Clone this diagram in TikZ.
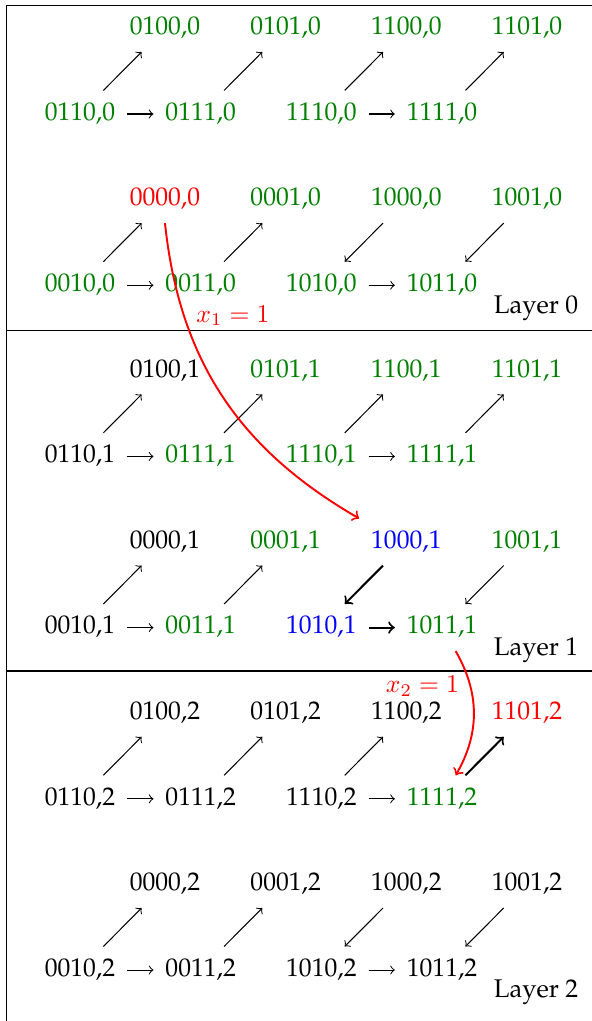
\documentclass[tikz,border=0pt]{standalone}
\usepackage[T1]{fontenc}
\usepackage{palatino}
\begin{document}
\begin{tikzpicture}
\tikzstyle{every node}+=[inner sep=4.5pt, text height=7pt, text depth=2pt]
\tikzstyle{okstate}=[text=green!50!black]
\tikzstyle{errstate}=[text=red]
\tikzstyle{curstate}=[text=blue]
\tikzstyle{jump}=[red, line width=0.75pt, ->]
\useasboundingbox (0,0) rectangle (8.127,-14.017);
\draw [black, line width=0.5pt] (8.127,-0.078) -- (0.092,-0.078) -- (0.092,-14.017);
\draw [black, line width=0.5pt] (0.092,-4.540) -- (8.127,-4.540);
\draw [black, line width=0.5pt] (0.092,-9.212) -- (8.127,-9.212);
% layer 0
\node [okstate] (s0100-0) at (2.265,-0.390) {0100,0};
\node [okstate] (s0101-0) at (3.922,-0.390) {0101,0};
\node [okstate] (s1100-0) at (5.579,-0.390) {1100,0};
\node [okstate] (s1101-0) at (7.236,-0.390) {1101,0};
\node [okstate] (s0110-0) at (1.098,-1.565) {0110,0};
\node [okstate] (s0111-0) at (2.755,-1.565) {0111,0};
\node [okstate] (s1110-0) at (4.412,-1.565) {1110,0};
\node [okstate] (s1111-0) at (6.069,-1.565) {1111,0};
\node [errstate] (s0000-0) at (2.265,-2.740) {0000,0};
\node [okstate] (s0001-0) at (3.922,-2.740) {0001,0};
\node [okstate] (s1000-0) at (5.579,-2.740) {1000,0};
\node [okstate] (s1001-0) at (7.236,-2.740) {1001,0};
\node [okstate] (s0010-0) at (1.098,-3.916) {0010,0};
\node [okstate] (s0011-0) at (2.755,-3.916) {0011,0};
\node [okstate] (s1010-0) at (4.412,-3.916) {1010,0};
\node [okstate] (s1011-0) at (6.069,-3.916) {1011,0};
\node (lay0) at (7.359,-4.210) {Layer 0};
\draw [->] (s0110-0) -- (s0111-0);
\draw [->] (s0110-0) -- (s0100-0);
\draw [->] (s0111-0) -- (s0101-0);
\draw [->] (s1110-0) -- (s1111-0);
\draw [->] (s1110-0) -- (s1100-0);
\draw [->] (s1111-0) -- (s1101-0);
\draw [->] (s0010-0) -- (s0011-0);
\draw [->] (s0010-0) -- (s0000-0);
\draw [->] (s0011-0) -- (s0001-0);
\draw [->] (s1010-0) -- (s1011-0);
\draw [->] (s1000-0) -- (s1010-0);
\draw [->] (s1001-0) -- (s1011-0);
% layer 1
\node (s0100-1) at (2.265,-5.091) {0100,1};
\node [okstate] (s0101-1) at (3.922,-5.091) {0101,1};
\node [okstate] (s1100-1) at (5.579,-5.091) {1100,1};
\node [okstate] (s1101-1) at (7.236,-5.091) {1101,1};
\node (s0110-1) at (1.098,-6.266) {0110,1};
\node [okstate] (s0111-1) at (2.755,-6.266) {0111,1};
\node [okstate] (s1110-1) at (4.412,-6.266) {1110,1};
\node [okstate] (s1111-1) at (6.069,-6.266) {1111,1};
\node (s0000-1) at (2.265,-7.441) {0000,1};
\node [okstate] (s0001-1) at (3.922,-7.441) {0001,1};
\node [curstate] (s1000-1) at (5.579,-7.441) {1000,1};
\node [okstate] (s1001-1) at (7.236,-7.441) {1001,1};
\node (s0010-1) at (1.098,-8.616) {0010,1};
\node [okstate] (s0011-1) at (2.755,-8.616) {0011,1};
\node [curstate] (s1010-1) at (4.412,-8.616) {1010,1};
\node [okstate] (s1011-1) at (6.069,-8.616) {1011,1};
\node (lay1) at (7.359,-8.911) {Layer 1};
\draw [->] (s0110-1) -- (s0111-1);
\draw [->] (s0110-1) -- (s0100-1);
\draw [->] (s0111-1) -- (s0101-1);
\draw [->] (s1110-1) -- (s1111-1);
\draw [->] (s1110-1) -- (s1100-1);
\draw [->] (s1111-1) -- (s1101-1);
\draw [->] (s0010-1) -- (s0011-1);
\draw [->] (s0010-1) -- (s0000-1);
\draw [->] (s0011-1) -- (s0001-1);
\draw [->, thick] (s1010-1) -- (s1011-1);
\draw [->, thick] (s1000-1) -- (s1010-1);
\draw [->] (s1001-1) -- (s1011-1);
% layer 2
\node (s0100-2) at (2.265,-9.792) {0100,2};
\node (s0101-2) at (3.922,-9.792) {0101,2};
\node (s1100-2) at (5.579,-9.792) {1100,2};
\node [errstate] (s1101-2) at (7.236,-9.792) {1101,2};
\node (s0110-2) at (1.098,-10.967) {0110,2};
\node (s0111-2) at (2.755,-10.967) {0111,2};
\node (s1110-2) at (4.412,-10.967) {1110,2};
\node [okstate] (s1111-2) at (6.069,-10.967) {1111,2};
\node (s0000-2) at (2.265,-12.142) {0000,2};
\node (s0001-2) at (3.922,-12.142) {0001,2};
\node (s1000-2) at (5.579,-12.142) {1000,2};
\node (s1001-2) at (7.236,-12.142) {1001,2};
\node (s0010-2) at (1.098,-13.317) {0010,2};
\node (s0011-2) at (2.755,-13.317) {0011,2};
\node (s1010-2) at (4.412,-13.317) {1010,2};
\node (s1011-2) at (6.069,-13.317) {1011,2};
\node (lay2) at (7.359,-13.611) {Layer 2};
\draw [->] (s0110-2) -- (s0111-2);
\draw [->] (s0110-2) -- (s0100-2);
\draw [->] (s0111-2) -- (s0101-2);
\draw [->] (s1110-2) -- (s1111-2);
\draw [->] (s1110-2) -- (s1100-2);
\draw [->, thick] (s1111-2) -- (s1101-2);
\draw [->] (s0010-2) -- (s0011-2);
\draw [->] (s0010-2) -- (s0000-2);
\draw [->] (s0011-2) -- (s0001-2);
\draw [->] (s1010-2) -- (s1011-2);
\draw [->] (s1000-2) -- (s1010-2);
\draw [->] (s1001-2) -- (s1011-2);
% jumps between layers
\draw [jump] (s0000-0.south) to [out=-84, in=150] (s1000-1.north west);
\node [errstate] (jump1) at (3.199,-4.333) {$x_1=1$};
\draw [jump] (s1011-1) to [bend left=30] (s1111-2);
\node [errstate] (jump2) at (5.800,-9.426) {$x_2=1$};
\end{tikzpicture}
\end{document}
